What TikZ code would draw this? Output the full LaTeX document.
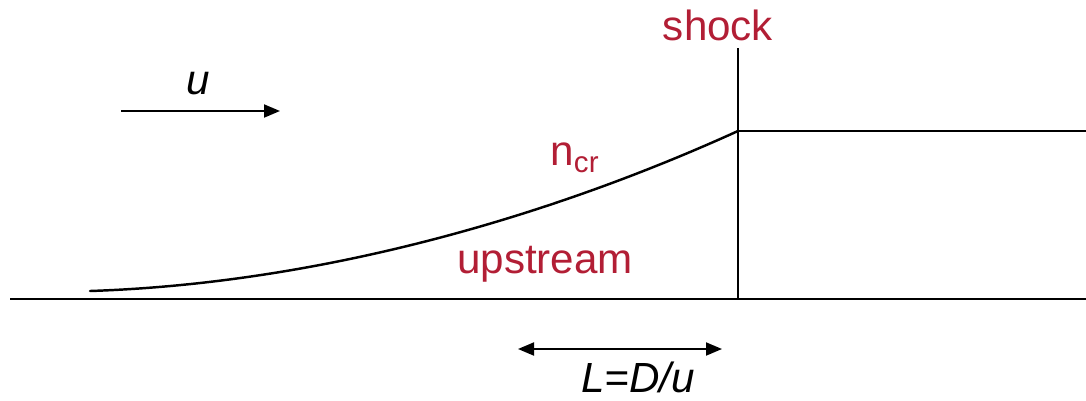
\documentclass[tikz,border=0pt]{standalone}
\usepackage{fontspec}
\setmainfont{Liberation Sans}
\usetikzlibrary{arrows.meta, positioning, calc}
\definecolor{AccentR}{HTML}{B21E35}
\tikzset{
  line/.style={draw=black, line width=1.4pt},
  flow/.style={-{Triangle[length=3.2mm, width=2.6mm]}, line width=1.1pt},
  span/.style={{Triangle[length=3.2mm, width=2.6mm]}-{Triangle[length=3.2mm, width=2.6mm]}, line width=1.1pt},
  rlabel/.style={text=AccentR, font=\fontsize{24}{28}\selectfont, inner sep=0pt},
  klabel/.style={text=black, font=\fontsize{24}{28}\selectfont\itshape, inner sep=0pt},
}
\begin{document}
\begin{tikzpicture}[x=0.02cm, y=-0.02cm]
    \useasboundingbox (0,0) rectangle (1086,400);
    % axis and shock front
    \coordinate (axL) at (10,299);
    \coordinate (axR) at (1086,299);
    \coordinate (shTop) at (738,48);
    \coordinate (shBot) at (738,299);
    \coordinate (peak) at (738,131);
    \coordinate (far) at (1086,131);
    \coordinate (start) at (90,291);
    \draw[line] (axL) -- (axR);
    \draw[line] (shTop) -- (shBot);
    \draw[line] (peak) -- (far);
    % precursor profile
    \draw[line, line cap=round] (start) .. controls (330,283) and (560,212) .. (peak);
    % labels
    \node[rlabel] (shock) at (718,25) {shock};
    \node[rlabel] (ncr) at (575,158) {n\textsubscript{cr}};
    \node[rlabel] (up) at (545,264) {upstream};
    % flow velocity
    \coordinate (u0) at (121,111);
    \coordinate (u1) at (280,111);
    \draw[flow] (u0) -- (u1);
    \node[klabel] (u) at (198,84) {u};
    % diffusion length
    \coordinate (l0) at (518,349);
    \coordinate (l1) at (722,349);
    \draw[span] (l0) -- (l1);
    \node[klabel] (len) at (638,377) {L=D/u};
\end{tikzpicture}
\end{document}
